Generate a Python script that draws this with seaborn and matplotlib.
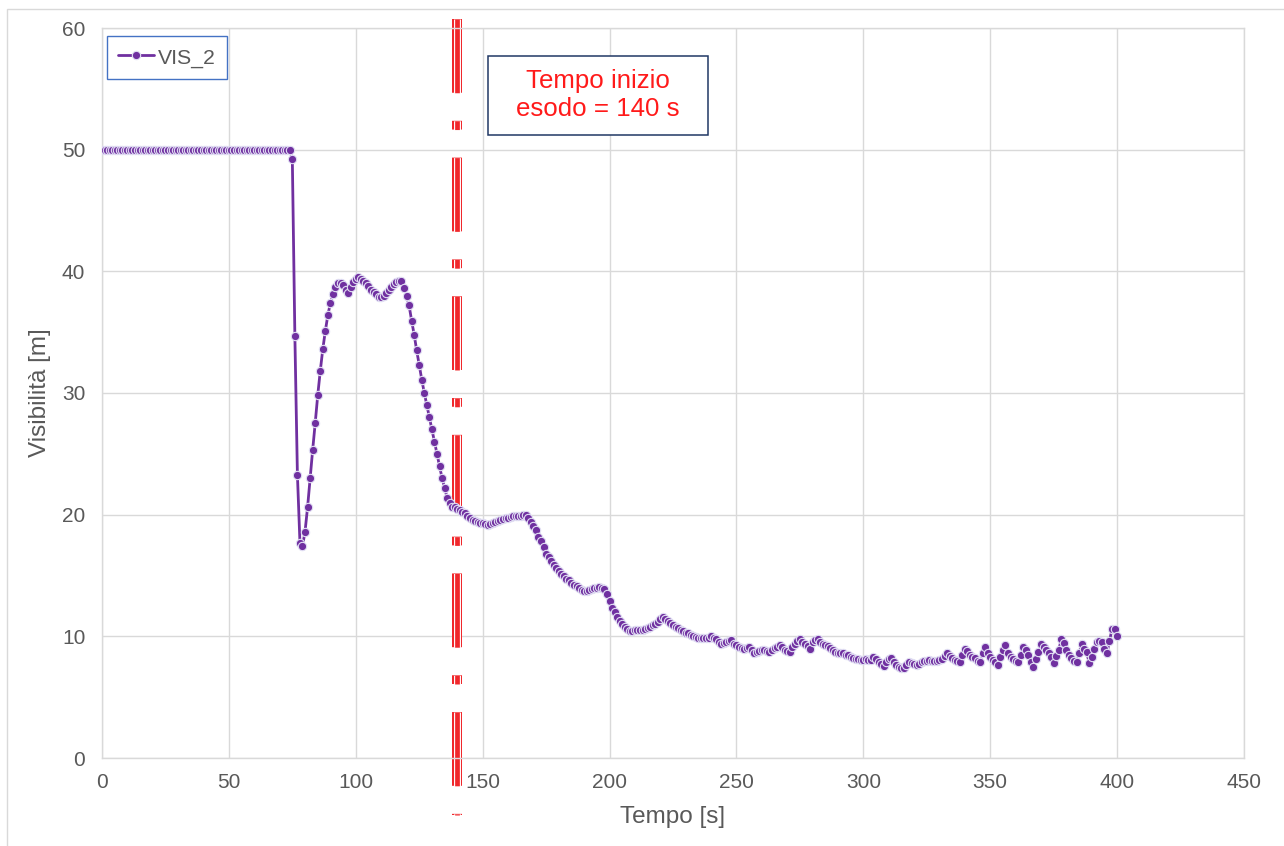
import matplotlib
matplotlib.use("Agg")
import matplotlib.pyplot as plt
from matplotlib.patches import Rectangle
import numpy as np
import pandas as pd
import seaborn as sns

# ---- data -------------------------------------------------------------
# time [s], one reading per second
tempo = list(range(0, 401))

# visibility VIS_2 [m]
vis_2 = [
    50.0, 50.0, 50.0, 50.0, 50.0, 50.0, 50.0, 50.0, 50.0, 50.0,   # 0-9
    50.0, 50.0, 50.0, 50.0, 50.0, 50.0, 50.0, 50.0, 50.0, 50.0,   # 10-19
    50.0, 50.0, 50.0, 50.0, 50.0, 50.0, 50.0, 50.0, 50.0, 50.0,   # 20-29
    50.0, 50.0, 50.0, 50.0, 50.0, 50.0, 50.0, 50.0, 50.0, 50.0,   # 30-39
    50.0, 50.0, 50.0, 50.0, 50.0, 50.0, 50.0, 50.0, 50.0, 50.0,   # 40-49
    50.0, 50.0, 50.0, 50.0, 50.0, 50.0, 50.0, 50.0, 50.0, 50.0,   # 50-59
    50.0, 50.0, 50.0, 50.0, 50.0, 50.0, 50.0, 50.0, 50.0, 50.0,   # 60-69
    50.0, 50.0, 50.0, 50.0, 50.0, 49.2, 34.7, 23.3, 17.7, 17.4,   # 70-79
    18.6, 20.6, 23.0, 25.3, 27.5, 29.8, 31.8, 33.6, 35.1, 36.4,   # 80-89
    37.4, 38.1, 38.7, 39.0, 39.0, 38.9, 38.5, 38.2, 38.7, 39.15,  # 90-99
    39.4, 39.55, 39.4, 39.2, 39.05, 38.8, 38.5, 38.3, 38.1, 37.9, # 100-109
    37.9, 38.0, 38.2, 38.5, 38.7, 38.95, 39.1, 39.2, 39.2, 38.6,  # 110-119
    38.0, 37.2, 35.95, 34.8, 33.5, 32.3, 31.1, 30.0, 29.0, 28.0,  # 120-129
    27.0, 26.0, 25.0, 24.0, 23.0, 22.2, 21.4, 21.0, 20.65, 20.6,  # 130-139
    20.5, 20.4, 20.25, 20.1, 19.9, 19.7, 19.55, 19.45, 19.4, 19.35,  # 140-149
    19.3, 19.2, 19.15, 19.25, 19.3, 19.4, 19.5, 19.6, 19.65, 19.7,   # 150-159
    19.75, 19.8, 19.85, 19.85, 19.85, 19.9, 20.0, 19.95, 19.7, 19.4, # 160-169
    19.1, 18.7, 18.2, 17.8, 17.35, 16.8, 16.5, 16.2, 15.9, 15.6,     # 170-179
    15.35, 15.1, 14.95, 14.75, 14.6, 14.4, 14.25, 14.1, 13.95, 13.8, # 180-189
    13.7, 13.75, 13.8, 13.9, 13.95, 14.0, 14.05, 14.0, 13.9, 13.5,   # 190-199
    12.9, 12.35, 12.0, 11.6, 11.3, 11.05, 10.8, 10.6, 10.45, 10.4,   # 200-209
    10.5, 10.5, 10.5, 10.5, 10.6, 10.65, 10.8, 10.9, 11.05, 11.2,    # 210-219
    11.4, 11.55, 11.45, 11.3, 11.1, 10.9, 10.8, 10.65, 10.5, 10.4,   # 220-229
    10.3, 10.25, 10.1, 10.0, 9.95, 9.85, 9.85, 9.85, 9.85, 9.9,      # 230-239
    10.0, 9.9, 9.75, 9.55, 9.4, 9.45, 9.5, 9.6, 9.7, 9.4,            # 240-249
    9.25, 9.1, 9.05, 9.0, 9.05, 9.1, 8.85, 8.6, 8.7, 8.8,            # 250-259
    8.85, 8.9, 8.8, 8.75, 8.9, 9.05, 9.1, 9.3, 9.1, 8.9,             # 260-269
    8.8, 8.75, 9.1, 9.4, 9.6, 9.75, 9.55, 9.4, 9.2, 9.0,             # 270-279
    9.55, 9.7, 9.78, 9.55, 9.4, 9.3, 9.2, 9.05, 8.9, 8.75,           # 280-289
    8.65, 8.6, 8.6, 8.5, 8.45, 8.3, 8.2, 8.1, 8.1, 8.05,             # 290-299
    8.05, 8.1, 8.05, 8.05, 8.28, 8.1, 7.9, 7.7, 7.6, 7.85,           # 300-309
    8.1, 8.2, 7.9, 7.65, 7.5, 7.4, 7.4, 7.65, 7.9, 7.8,              # 310-319
    7.7, 7.65, 7.75, 7.9, 7.95, 8.0, 8.05, 8.0, 8.0, 8.0,            # 320-329
    8.05, 8.1, 8.35, 8.6, 8.4, 8.2, 8.05, 7.95, 7.9, 8.45,           # 330-339
    9.0, 8.8, 8.47, 8.3, 8.19, 8.0, 7.9, 8.6, 9.15, 8.65,            # 340-349
    8.3, 8.05, 7.85, 7.64, 8.33, 8.9, 9.29, 8.6, 8.3, 8.1,           # 350-359
    7.95, 7.9, 8.47, 9.15, 8.9, 8.5, 7.9, 7.5, 8.1, 8.74,            # 360-369
    9.37, 9.1, 8.88, 8.6, 8.33, 7.78, 8.4, 8.88, 9.75, 9.48,         # 370-379
    8.88, 8.5, 8.19, 8.0, 7.9, 8.6, 9.37, 9.0, 8.74, 7.78,           # 380-389
    8.33, 9.0, 9.56, 9.6, 9.56, 8.93, 8.6, 9.64, 10.58, 10.58,       # 390-399
    10.03,                                                           # 400
]

series_name = "VIS_2"
inizio_esodo = 140          # start of evacuation [s]
x_ticks = [0, 50, 100, 150, 200, 250, 300, 350, 400, 450]
y_ticks = [0, 10, 20, 30, 40, 50, 60]

df = pd.DataFrame({"Tempo": tempo, "Visibilita": vis_2})

# ---- style ------------------------------------------------------------
sns.set_theme(style="white")
plt.rcParams["font.family"] = ["Liberation Sans", "DejaVu Sans"]
plt.rcParams["lines.scale_dashes"] = False

GRID = "#D9D9D9"
TEXT = "#595959"
PURPLE = "#7030A0"
RED = "#F0282C"

W, H = 1284, 846
fig = plt.figure(figsize=(W / 100, H / 100), dpi=100)
ax = fig.add_axes([102 / W, 1 - 758 / H, (1244 - 102) / W, (758 - 28) / H])

# outer chart border
fig.patches.append(Rectangle((7 / W, -0.05), 1.2, 1 - 9 / H + 0.05,
                             transform=fig.transFigure, fill=False,
                             edgecolor=GRID, linewidth=1.0))

# ---- evacuation start marker: triple dash-dot line ---------------------
dash = (0, (53.1, 20.2, 6.3, 20.2))
y_top, y_bot = 60.74, -4.68
for lw, col in [(7.2, RED), (5.0, "white"), (3.4, RED)]:
    ax.plot([inizio_esodo, inizio_esodo], [y_top, y_bot], linestyle=dash,
            color=col, linewidth=lw, clip_on=False, zorder=2,
            solid_capstyle="butt", dash_capstyle="butt")

# ---- series -----------------------------------------------------------
sns.lineplot(data=df, x="Tempo", y="Visibilita", ax=ax, color=PURPLE,
             linewidth=2.0, marker="o", markersize=6.0,
             markerfacecolor=PURPLE, markeredgecolor="#E2E0F4",
             markeredgewidth=0.8, label=series_name, zorder=3)

# ---- axes -------------------------------------------------------------
ax.set_xlim(0, 450)
ax.set_ylim(0, 60)
ax.set_xticks(x_ticks)
ax.set_yticks(y_ticks)
ax.grid(True, color=GRID, linewidth=1.0)
ax.set_axisbelow(True)
for s in ax.spines.values():
    s.set_color(GRID)
    s.set_linewidth(1.0)
ax.tick_params(axis="both", length=0, labelsize=15, labelcolor=TEXT)
ax.tick_params(axis="x", pad=11)
ax.tick_params(axis="y", pad=12)
ax.set_xlabel("Tempo [s]", fontsize=17.5, color=TEXT, labelpad=10)
ax.set_ylabel("Visibilità [m]", fontsize=17.5, color=TEXT, labelpad=8)

# ---- legend -----------------------------------------------------------
leg = ax.legend(loc="upper left", bbox_to_anchor=(5 / 1142, 1 - 8 / 730),
                borderaxespad=0, fontsize=15.3, frameon=True, fancybox=False,
                handlelength=1.7, handletextpad=0.2, borderpad=0.5,
                handleheight=1.05, labelcolor=TEXT)
leg.get_frame().set_edgecolor("#4472C4")
leg.get_frame().set_linewidth(1.0)
leg.get_frame().set_alpha(1)

# ---- annotation box ---------------------------------------------------
bx0, bx1, by0, by1 = 488, 708, 55.7, 135
ax.add_patch(Rectangle(((bx0 - 102) / 1142, (758 - by1) / 730),
                       (bx1 - bx0) / 1142, (by1 - by0) / 730,
                       transform=ax.transAxes, facecolor="white",
                       edgecolor="#203864", linewidth=1.1, zorder=5,
                       clip_on=False))
ax.text(((bx0 + bx1) / 2 - 102) / 1142, (758 - (by0 + by1) / 2) / 730,
        f"Tempo inizio\nesodo = {inizio_esodo} s", transform=ax.transAxes,
        ha="center", va="center", multialignment="center", fontsize=18.6,
        color="#FF1A1A", linespacing=1.2, zorder=6)

fig.savefig("out.png", dpi=100)
